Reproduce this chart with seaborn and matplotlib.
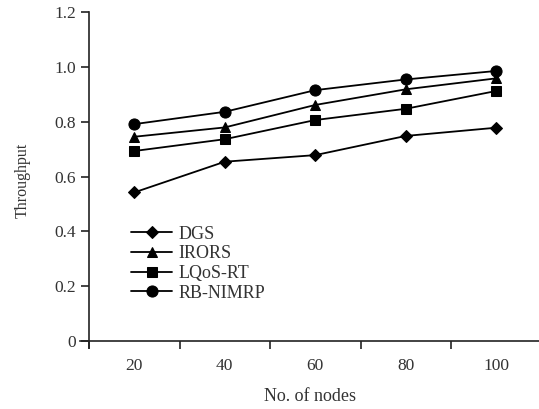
import matplotlib
matplotlib.use("Agg")
import matplotlib.pyplot as plt
import seaborn as sns
import numpy as np

nodes = [20, 40, 60, 80, 100]
dgs = [0.542, 0.654, 0.678, 0.748, 0.778]
irors = [0.745, 0.779, 0.861, 0.918, 0.958]
lqos = [0.693, 0.736, 0.806, 0.847, 0.912]
rbnimrp = [0.791, 0.836, 0.915, 0.954, 0.985]
series_names = ["DGS", "IRORS", "LQoS-RT", "RB-NIMRP"]
y_ticks = [0, 0.2, 0.4, 0.6, 0.8, 1.0, 1.2]
y_tick_labels = ["0", "0.2", "0.4", "0.6", "0.8", "1.0", "1.2"]

sns.set_style("ticks")
plt.rcParams['font.family'] = ['Liberation Serif', 'DejaVu Serif']

fig = plt.figure(figsize=(5.39, 4.09), dpi=100)
ax = fig.add_axes([80/539, (409-348)/409, 459/539, (348-12)/409])

pos = np.arange(len(nodes))
markers = ["D", "^", "s", "o"]
sizes = [6, 7, 7, 8]
for vals, name, m, ms in zip([dgs, irors, lqos, rbnimrp], series_names, markers, sizes):
    sns.lineplot(x=pos, y=vals, ax=ax, color="black", marker=m, markersize=ms,
                 markeredgecolor="black", linewidth=1.3, label=name)

ax.set_xlim(-0.6, -0.6 + 459/90.5)
ax.set_ylim(-0.0255, 1.2)
ax.spines['left'].set_position(('data', -0.5))
ax.spines['bottom'].set_position(('data', 0))
ax.spines['top'].set_visible(False)
ax.spines['right'].set_visible(False)
for s in ['left', 'bottom']:
    ax.spines[s].set_linewidth(1.2)
    ax.spines[s].set_color('#222222')

ax.set_xticks(np.arange(-0.5, len(nodes) - 0.5, 1.0))
ax.set_xticklabels([])
ax.set_xticks(pos, minor=True)
ax.set_xticklabels([str(n) for n in nodes], minor=True, fontsize=12.5, color='#333333')
ax.tick_params(axis='x', which='minor', length=0, pad=12)
ax.tick_params(axis='x', which='major', length=6, width=1.2, direction='out', color='#222222')
ax.set_yticks(y_ticks)
ax.set_yticklabels(y_tick_labels, fontsize=12.5, color='#333333')
ax.tick_params(axis='y', length=6, width=1.2, direction='out', color='#222222')

ax.set_xlabel("No. of nodes", fontsize=13, color='#333333', labelpad=10)
ax.set_ylabel("Throughput", fontsize=11.5, color='#333333', labelpad=17)

leg = ax.legend(loc='upper left', bbox_to_anchor=(0.095, 0.386), frameon=False,
                fontsize=13, handlelength=2.3, handletextpad=0.35, labelspacing=0.15,
                borderaxespad=0)
for t in leg.get_texts():
    t.set_color('#333333')

fig.savefig("out.png", dpi=100)
